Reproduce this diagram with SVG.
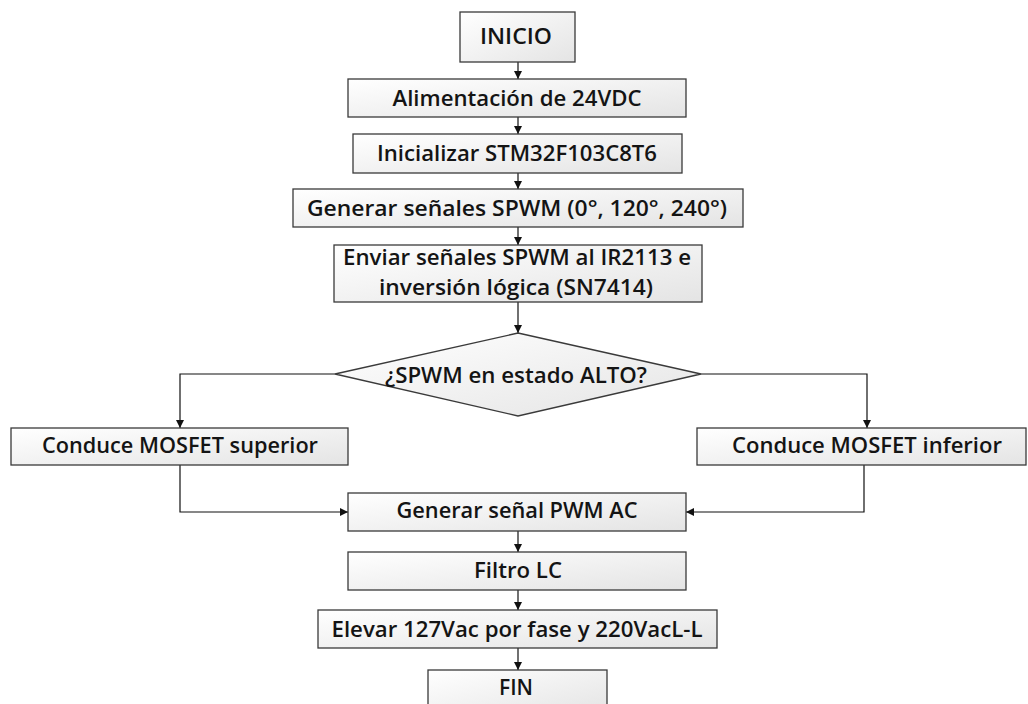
<svg xmlns="http://www.w3.org/2000/svg" width="1028" height="704" viewBox="0 0 1028 704">
<defs>
<linearGradient id="g" x1="0" y1="0" x2="1" y2="1">
<stop offset="0" stop-color="#ffffff"/>
<stop offset="1" stop-color="#e4e4e4"/>
</linearGradient>
<marker id="a" viewBox="0 0 10 10" refX="10" refY="5" markerWidth="8" markerHeight="8" markerUnits="userSpaceOnUse" orient="auto">
<path d="M0,0 L10,5 L0,10 z" fill="#111"/>
</marker>
<style>
.n{fill:url(#g);stroke:#3a3a3a;stroke-width:1.3}
.t{font-family:"Open Sans","Liberation Sans",sans-serif;font-weight:600;font-size:21px;fill:#141414;text-anchor:middle}
.c{fill:none;stroke:#111;stroke-width:1.2;marker-end:url(#a)}
</style>
</defs>
<rect width="1028" height="704" fill="#fff"/>
<g id="connectors">
<path class="c" d="M518,62 V79"/>
<path class="c" d="M518,117 V134"/>
<path class="c" d="M518,173 V189"/>
<path class="c" d="M518,227 V245"/>
<path class="c" d="M518,302 V333"/>
<path class="c" d="M335,374 H180 V428"/>
<path class="c" d="M701,374 H867 V428"/>
<path class="c" d="M180,465 V512 H348"/>
<path class="c" d="M864,465 V512 H686"/>
<path class="c" d="M518,531 V552"/>
<path class="c" d="M518,590 V610"/>
<path class="c" d="M518,648 V670"/>
</g>
<g id="inicio"><rect class="n" x="460" y="12" width="115" height="50"/><text class="t" x="516" y="44" textLength="72" lengthAdjust="spacingAndGlyphs">INICIO</text></g>
<g id="alimentacion"><rect class="n" x="348" y="79" width="338" height="38"/><text class="t" x="517" y="106" textLength="249" lengthAdjust="spacingAndGlyphs">Alimentación de 24VDC</text></g>
<g id="inicializar"><rect class="n" x="353" y="134" width="329" height="39"/><text class="t" x="517" y="161" textLength="280" lengthAdjust="spacingAndGlyphs">Inicializar STM32F103C8T6</text></g>
<g id="generar-spwm"><rect class="n" x="293" y="189" width="450" height="38"/><text class="t" x="517" y="216" textLength="420" lengthAdjust="spacingAndGlyphs">Generar señales SPWM (0°, 120°, 240°)</text></g>
<g id="enviar"><rect class="n" x="334" y="245" width="368" height="57"/><text class="t" x="517" y="265" textLength="348" lengthAdjust="spacingAndGlyphs">Enviar señales SPWM al IR2113 e</text><text class="t" x="516" y="295" textLength="274" lengthAdjust="spacingAndGlyphs">inversión lógica (SN7414)</text></g>
<g id="decision"><polygon class="n" points="518,333 701,374 518,416 335,374"/><text class="t" x="516" y="383" textLength="262" lengthAdjust="spacingAndGlyphs">¿SPWM en estado ALTO?</text></g>
<g id="superior"><rect class="n" x="11" y="428" width="337" height="37"/><text class="t" x="180" y="453" textLength="276" lengthAdjust="spacingAndGlyphs">Conduce MOSFET superior</text></g>
<g id="inferior"><rect class="n" x="697" y="428" width="329" height="37"/><text class="t" x="867" y="453" textLength="270" lengthAdjust="spacingAndGlyphs">Conduce MOSFET inferior</text></g>
<g id="pwm-ac"><rect class="n" x="348" y="493" width="338" height="38"/><text class="t" x="517" y="518" textLength="241" lengthAdjust="spacingAndGlyphs">Generar señal PWM AC</text></g>
<g id="filtro"><rect class="n" x="348" y="552" width="338" height="38"/><text class="t" x="518" y="578" textLength="88" lengthAdjust="spacingAndGlyphs">Filtro LC</text></g>
<g id="elevar"><rect class="n" x="318" y="610" width="399" height="38"/><text class="t" x="517" y="637" textLength="371" lengthAdjust="spacingAndGlyphs">Elevar 127Vac por fase y 220VacL-L</text></g>
<g id="fin"><rect class="n" x="428" y="670" width="179" height="45"/><text class="t" x="516" y="695" textLength="34" lengthAdjust="spacingAndGlyphs">FIN</text></g>
</svg>
